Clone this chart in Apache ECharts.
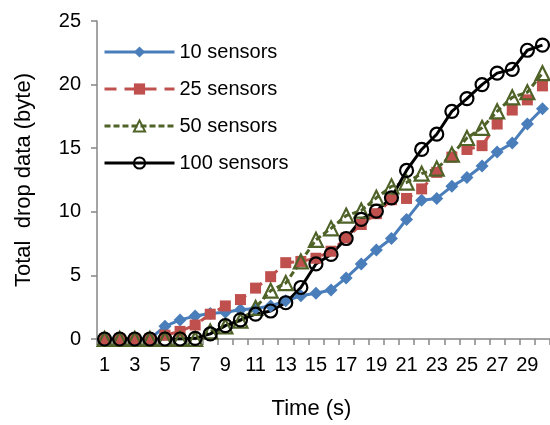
<!DOCTYPE html>
<html>
<head>
<meta charset="utf-8">
<script src="https://cdn.jsdelivr.net/npm/echarts@6/dist/echarts.min.js"></script>
<style>
  html, body { margin: 0; padding: 0; background: #fff; }
  #chart { width: 550px; height: 425px; }
</style>
</head>
<body>
<div id="chart"></div>
<script>
const times = ['1','2','3','4','5','6','7','8','9','10','11','12','13','14','15',
  '16','17','18','19','20','21','22','23','24','25','26','27','28','29','30']

// Total drop data (byte) per second
const s10 = [0, 0, 0, 0, 1.0, 1.5, 1.8, 2.0, 2.1, 2.3, 2.4, 2.6, 3.0, 3.4, 3.6,
  3.85, 4.8, 5.9, 7.0, 7.9, 9.4, 10.9, 11.05, 12.0, 12.7, 13.6, 14.7, 15.4, 16.9, 18.1]
const s25 = [0, 0, 0, 0, 0.3, 0.6, 1.1, 1.95, 2.6, 3.1, 4.0, 4.9, 6.0, 6.1, 6.35,
  6.9, 7.95, 9.0, 9.85, 10.95, 11.05, 11.8, 13.1, 14.3, 14.9, 15.2, 16.9, 18.0, 18.8, 19.9]
const s50 = [0, 0, 0, 0, 0, 0, 0, 0.6, 1.0, 1.45, 2.45, 3.8, 4.4, 6.1, 7.8,
  8.7, 9.7, 10.1, 11.1, 12.0, 12.3, 13.0, 13.4, 14.5, 15.8, 16.6, 17.9, 19.0, 19.4, 20.9]
const s100 = [0, 0, 0, 0, 0, 0, 0.05, 0.4, 1.05, 1.5, 1.95, 2.2, 2.85, 4.05, 5.9,
  6.65, 7.9, 9.4, 10.05, 11.1, 13.25, 14.9, 16.1, 17.9, 18.9, 20.0, 20.9, 21.2, 22.7, 23.1]

const font = 'Liberation Sans, Arial, sans-serif'
const axisGrey = '#868686'

function mkSeries(name, data, color, lineType, symbol, size, hollow) {
  return {
    name: name,
    type: 'line',
    data: data,
    symbol: symbol,
    symbolSize: size,
    showAllSymbol: true,
    lineStyle: { color: color, width: 3, type: lineType },
    itemStyle: hollow
      ? { color: 'rgba(0,0,0,0)', borderColor: color, borderWidth: 2.2 }
      : { color: color, borderWidth: 0 },
    emphasis: { disabled: true },
    animation: false
  }
}

const chart = echarts.init(document.getElementById('chart'))
const option = {
  backgroundColor: '#fff',
  textStyle: { fontFamily: font },
  grid: { left: 97, right: -8, top: 21, bottom: 84 },
  legend: {
    orient: 'vertical',
    left: 98,
    top: 37,
    itemWidth: 70,
    itemHeight: 14,
    itemGap: 17,
    lineStyle: { width: 3 },
    textStyle: { fontSize: 20, color: '#000', fontFamily: font },
    data: ['10 sensors', '25 sensors', '50 sensors', '100 sensors']
  },
  xAxis: {
    type: 'category',
    data: times,
    boundaryGap: true,
    name: 'Time (s)',
    nameLocation: 'middle',
    nameGap: 59,
    nameTextStyle: { fontSize: 22, color: '#000', padding: [0, 24, 0, 0] },
    axisLine: { lineStyle: { color: axisGrey, width: 1.5 } },
    axisTick: { show: true, inside: false, length: 6, interval: 0, lineStyle: { color: axisGrey, width: 1.5 } },
    axisLabel: { interval: 1, fontSize: 20, color: '#000', margin: 16 },
    splitLine: { show: false }
  },
  yAxis: {
    type: 'value',
    min: 0,
    max: 25,
    interval: 5,
    name: 'Total  drop data (byte)',
    nameLocation: 'middle',
    nameGap: 62,
    nameTextStyle: { fontSize: 22, color: '#000' },
    axisLine: { show: true, lineStyle: { color: axisGrey, width: 1.5 } },
    axisTick: { show: true, inside: false, length: 6, lineStyle: { color: axisGrey, width: 1.5 } },
    axisLabel: { fontSize: 20, color: '#000', margin: 16 },
    splitLine: { show: false }
  },
  series: [
    mkSeries('10 sensors', s10, '#4A7EBB', 'solid', 'diamond', 13, false),
    mkSeries('25 sensors', s25, '#C0504D', [12, 8], 'rect', 11, false),
    mkSeries('50 sensors', s50, '#4F6228', [6, 3], 'triangle', 14, true),
    mkSeries('100 sensors', s100, '#000000', 'solid', 'circle', 13, true)
  ]
}
chart.setOption(option)
</script>
</body>
</html>
